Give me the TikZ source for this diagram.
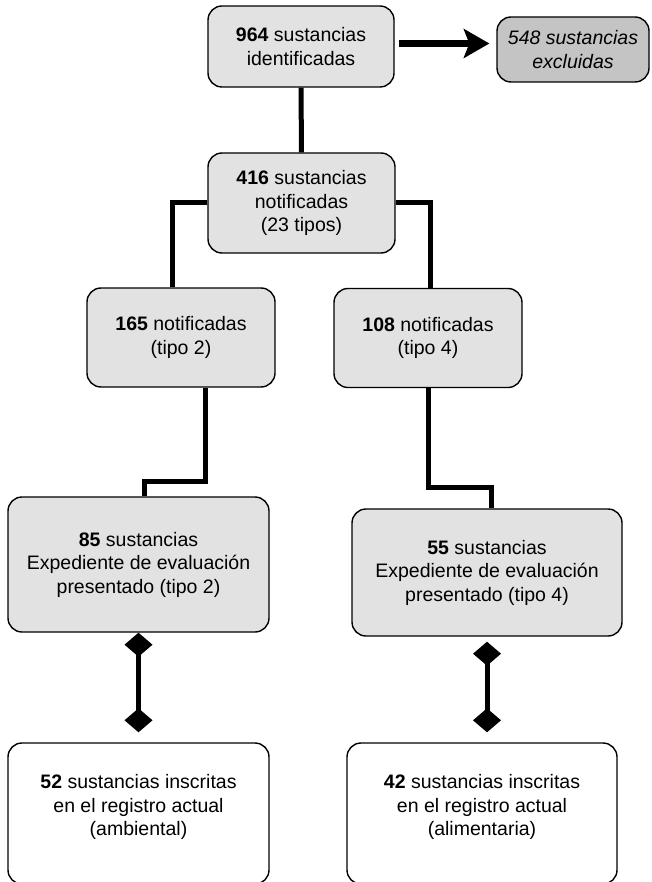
\documentclass[tikz,border=0pt]{standalone}
\usepackage{fontspec}
\setmainfont{Liberation Sans}
\usetikzlibrary{arrows.meta}
\definecolor{boxgray}{HTML}{E2E2E2}
\definecolor{darkbox}{HTML}{C4C4C4}
\begin{document}
\begin{tikzpicture}[x=1pt,y=-1pt,
  box/.style={draw=black,line width=1.4pt,rounded corners=14pt,fill=boxgray,
    align=center,inner sep=0pt,font=\fontsize{19.5}{23.5}\selectfont},
  whitebox/.style={box,fill=white},
  txt/.style={align=center,inner sep=0pt,font=\fontsize{19.5}{23.5}\selectfont},
  conn/.style={line width=5pt,draw=black},
  bigarrow/.style={line width=7pt,-{Stealth[length=26pt,width=30pt,inset=6pt,line width=0pt]}},
  dia/.style={line width=5pt,{Diamond[length=24pt,width=28pt,line width=0pt]}-{Diamond[length=24pt,width=28pt,line width=0pt]}}
]
\useasboundingbox[fill=white] (0,0) rectangle (651,882);

\node[box,minimum width=186pt,minimum height=81pt] (b964) at (301,46.5)
  {\textbf{964} sustancias\\identificadas};
\node[box,fill=darkbox,minimum width=152pt,minimum height=65pt,font=\fontsize{19.5}{23.5}\selectfont\itshape] (b548) at (573,49.5)
  {548 sustancias\\excluidas};
\node[box,minimum width=187pt,minimum height=100pt] (b416) at (301.5,203)
  {\textbf{416} sustancias\\notificadas\\(23 tipos)};
\node[box,minimum width=188pt,minimum height=99pt] (b165) at (181,337.5)
  {\textbf{165} notificadas\\(tipo 2)};
\node[box,minimum width=188pt,minimum height=99pt] (b108) at (428,338)
  {\textbf{108} notificadas\\(tipo 4)};
\node[box,minimum width=261pt,minimum height=135pt] (b85) at (138.5,564.5)
  {\textbf{85} sustancias\\Expediente de evaluación\\presentado (tipo 2)};
\node[box,minimum width=270pt,minimum height=127pt] (b55) at (487,572.5)
  {\textbf{55} sustancias\\Expediente de evaluación\\presentado (tipo 4)};
\node[whitebox,minimum width=261pt,minimum height=141pt] (b52) at (138.5,813.5) {};
\node[txt] (t52) at (138.5,807) {\textbf{52} sustancias inscritas\\en el registro actual\\(ambiental)};
\node[whitebox,minimum width=270pt,minimum height=141pt] (b42) at (482,813.5) {};
\node[txt] (t42) at (482,807) {\textbf{42} sustancias inscritas\\en el registro actual\\(alimentaria)};

\draw[bigarrow] ([xshift=4pt,yshift=3pt]b964.east) -- ([xshift=-7pt,yshift=3pt]b964.east -| b548.west);
\draw[conn] (b964.south) -- (b416.north);
\draw[conn] (b416.west) -| ([xshift=-9pt]b165.north);
\draw[conn] (b416.east) -| ([xshift=2pt]b108.north);
\draw[conn] ([xshift=24pt]b165.south) -- ++(0,94) -| ([xshift=5.5pt]b85.north);
\draw[conn] (b108.south) -- ++(0,99) -| ([xshift=4pt]b55.north);
\draw[dia,shorten >=10pt] (b85.south) -- (b85.south |- b52.north);
\draw[dia,shorten <=5pt,shorten >=10pt] (b55.south) -- (b55.south |- b42.north);
\end{tikzpicture}
\end{document}
